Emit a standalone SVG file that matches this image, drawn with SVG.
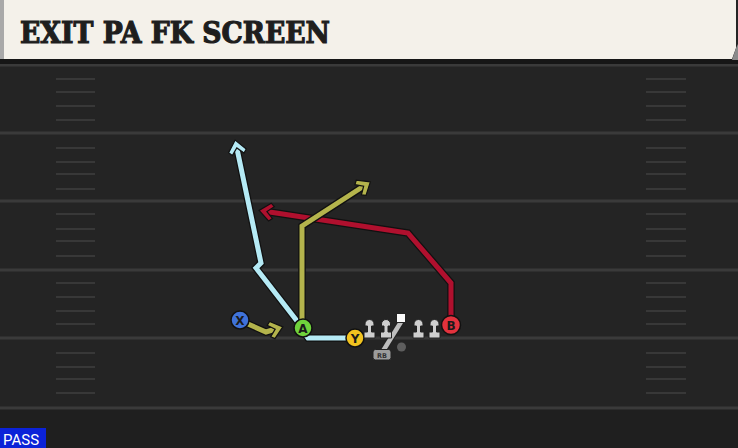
<svg xmlns="http://www.w3.org/2000/svg" width="738" height="448" viewBox="0 0 738 448">
<style>
.yard{stroke:#3a3a3a;stroke-width:3}
.hash{stroke:#383838;stroke-width:2}
.outline{fill:none;stroke:#111;stroke-width:7.5;stroke-linejoin:miter}
.route{fill:none;stroke-width:5;stroke-linejoin:miter}
.olive{stroke:#b4b44c}
.blue{stroke:#b5eaf5}
.red{stroke:#b0102e}
.pl{stroke:#111;stroke-width:1.5}
.pt{font-family:"DejaVu Sans",sans-serif;font-weight:bold;font-size:12px;fill:#1a1a1a;text-anchor:middle}
.ol{fill:#cfcfcf;stroke:#222;stroke-width:1}
</style>
<defs>
<marker id="aOlive" markerUnits="userSpaceOnUse" orient="auto" markerWidth="30" markerHeight="30" viewBox="-15 -15 30 30" refX="0" refY="0" overflow="visible">
<polygon points="4,0 -7,-9 -10.5,-6 -4,0 -10.5,6 -7,9" fill="#b4b44c" stroke="#111" stroke-width="1.2"/>
</marker>
<marker id="aBlue" markerUnits="userSpaceOnUse" orient="auto" markerWidth="30" markerHeight="30" viewBox="-15 -15 30 30" refX="0" refY="0" overflow="visible">
<polygon points="4,0 -7,-9 -10.5,-6 -4,0 -10.5,6 -7,9" fill="#b5eaf5" stroke="#111" stroke-width="1.2"/>
</marker>
<marker id="aRed" markerUnits="userSpaceOnUse" orient="auto" markerWidth="30" markerHeight="30" viewBox="-15 -15 30 30" refX="0" refY="0" overflow="visible">
<polygon points="4,0 -7,-9 -10.5,-6 -4,0 -10.5,6 -7,9" fill="#b0102e" stroke="#111" stroke-width="1.2"/>
</marker>
</defs>

<g id="field">
<rect x="0" y="0" width="738" height="448" fill="#242424"/>
<rect x="0" y="408" width="738" height="40" fill="#1f1f1f"/>
<line class="yard" x1="0" y1="65" x2="738" y2="65"/>
<line class="yard" x1="0" y1="133" x2="738" y2="133"/>
<line class="yard" x1="0" y1="201" x2="738" y2="201"/>
<line class="yard" x1="0" y1="270" x2="738" y2="270"/>
<line class="yard" x1="0" y1="338" x2="738" y2="338"/>
<line class="yard" x1="0" y1="408" x2="738" y2="408"/>
<g id="hashes-left">
<line class="hash" x1="56" y1="79" x2="95" y2="79"/><line class="hash" x1="56" y1="92" x2="95" y2="92"/><line class="hash" x1="56" y1="106" x2="95" y2="106"/><line class="hash" x1="56" y1="120" x2="95" y2="120"/>
<line class="hash" x1="56" y1="148" x2="95" y2="148"/><line class="hash" x1="56" y1="162" x2="95" y2="162"/><line class="hash" x1="56" y1="174" x2="95" y2="174"/><line class="hash" x1="56" y1="189" x2="95" y2="189"/>
<line class="hash" x1="56" y1="214" x2="95" y2="214"/><line class="hash" x1="56" y1="229" x2="95" y2="229"/><line class="hash" x1="56" y1="241" x2="95" y2="241"/><line class="hash" x1="56" y1="256" x2="95" y2="256"/>
<line class="hash" x1="56" y1="283" x2="95" y2="283"/><line class="hash" x1="56" y1="297" x2="95" y2="297"/><line class="hash" x1="56" y1="311" x2="95" y2="311"/><line class="hash" x1="56" y1="324" x2="95" y2="324"/>
<line class="hash" x1="56" y1="353" x2="95" y2="353"/><line class="hash" x1="56" y1="367" x2="95" y2="367"/><line class="hash" x1="56" y1="379" x2="95" y2="379"/><line class="hash" x1="56" y1="393" x2="95" y2="393"/>
</g>
<g id="hashes-right">
<line class="hash" x1="646" y1="79" x2="686" y2="79"/><line class="hash" x1="646" y1="92" x2="686" y2="92"/><line class="hash" x1="646" y1="106" x2="686" y2="106"/><line class="hash" x1="646" y1="120" x2="686" y2="120"/>
<line class="hash" x1="646" y1="148" x2="686" y2="148"/><line class="hash" x1="646" y1="162" x2="686" y2="162"/><line class="hash" x1="646" y1="174" x2="686" y2="174"/><line class="hash" x1="646" y1="189" x2="686" y2="189"/>
<line class="hash" x1="646" y1="214" x2="686" y2="214"/><line class="hash" x1="646" y1="229" x2="686" y2="229"/><line class="hash" x1="646" y1="241" x2="686" y2="241"/><line class="hash" x1="646" y1="256" x2="686" y2="256"/>
<line class="hash" x1="646" y1="283" x2="686" y2="283"/><line class="hash" x1="646" y1="297" x2="686" y2="297"/><line class="hash" x1="646" y1="311" x2="686" y2="311"/><line class="hash" x1="646" y1="324" x2="686" y2="324"/>
<line class="hash" x1="646" y1="353" x2="686" y2="353"/><line class="hash" x1="646" y1="367" x2="686" y2="367"/><line class="hash" x1="646" y1="379" x2="686" y2="379"/><line class="hash" x1="646" y1="393" x2="686" y2="393"/>
</g>
</g>

<g id="header">
<rect x="0" y="59" width="738" height="5" fill="#161616"/>
<polygon points="0,0 736,0 736,48 732,59 0,59" fill="#f4f1ea"/>
<polygon points="736,48 738,44 738,60 732,60" fill="#8a8a8a"/>
<rect x="0" y="0" width="4" height="59" fill="#a9a9a9"/>
<text x="20" y="43" font-family="'DejaVu Serif','Liberation Serif',serif" font-weight="bold" font-size="29" fill="#1e1e1e" stroke="#1e1e1e" stroke-width="1.2" textLength="310" lengthAdjust="spacingAndGlyphs">EXIT PA FK SCREEN</text>
</g>

<g id="connectors">
<polyline class="outline" points="451,316 451,283 408,233 263,211"/>
<polyline class="route red" points="451,316 451,283 408,233 263,211" marker-end="url(#aRed)"/>
<polyline class="outline" points="297,321 256,268 261,263 236,144"/>
<polyline class="route blue" points="297,321 256,268 261,263 236,144" marker-end="url(#aBlue)"/>
<polyline class="outline" points="305,334 308,338 347,338"/>
<polyline class="route blue" points="305,334 308,338 347,338"/>
<polyline class="outline" points="302,320 302,226 367,184"/>
<polyline class="route olive" points="302,320 302,226 367,184" marker-end="url(#aOlive)"/>
<polyline class="outline" points="248,324 266,332 279,328"/>
<polyline class="route olive" points="248,324 266,332 279,328" marker-end="url(#aOlive)"/>
<line x1="401" y1="322" x2="383" y2="351" stroke="#222" stroke-width="6.5"/>
<line x1="401" y1="322" x2="383" y2="351" stroke="#bdbdbd" stroke-width="4.5"/>
</g>

<g id="node-X"><circle class="pl" cx="240" cy="320" r="9" fill="#3f72d9"/><text class="pt" x="240" y="324.5">X</text></g>
<g id="node-A"><circle class="pl" cx="303" cy="328" r="9" fill="#6fd23c"/><text class="pt" x="303" y="332.5">A</text></g>
<g id="node-Y"><circle class="pl" cx="355" cy="338" r="9" fill="#f1c21f"/><text class="pt" x="355" y="342.5">Y</text></g>
<g id="node-B"><circle class="pl" cx="451" cy="325" r="9.5" fill="#e2323d"/><text class="pt" x="451" y="329.5">B</text></g>

<g id="node-LT"><path class="ol" d="M365,324 a4.5,4.5 0 0 1 9,0 v2 h-2.5 v6 h3.5 v6 h-11 v-6 h3.5 v-6 h-2.5 z"/></g>
<g id="node-LG"><path class="ol" d="M381.5,324 a4.5,4.5 0 0 1 9,0 v2 h-2.5 v6 h3.5 v6 h-11 v-6 h3.5 v-6 h-2.5 z"/></g>
<g id="node-C"><rect x="396.5" y="313.5" width="9" height="9" fill="#fafafa" stroke="#222" stroke-width="1"/></g>
<g id="node-RG"><path class="ol" d="M414,324 a4.5,4.5 0 0 1 9,0 v2 h-2.5 v6 h3.5 v6 h-11 v-6 h3.5 v-6 h-2.5 z"/></g>
<g id="node-RT"><path class="ol" d="M430,324 a4.5,4.5 0 0 1 9,0 v2 h-2.5 v6 h3.5 v6 h-11 v-6 h3.5 v-6 h-2.5 z"/></g>
<g id="node-QB"><circle cx="401.5" cy="347" r="4.5" fill="#5e5e5e"/></g>
<g id="node-RB"><rect x="373" y="349.5" width="18" height="10.5" rx="2.5" fill="#9c9c9c" stroke="#222" stroke-width="1"/><text x="382" y="357.5" font-family="'DejaVu Sans',sans-serif" font-size="6.5" font-weight="bold" fill="#333" text-anchor="middle">RB</text></g>

<g id="badge">
<rect x="0" y="428" width="46" height="20" fill="#0b22d8"/>
<text x="3" y="444.5" font-family="Roboto,'Liberation Sans',sans-serif" font-size="15" fill="#ffffff">PASS</text>
</g>
</svg>
